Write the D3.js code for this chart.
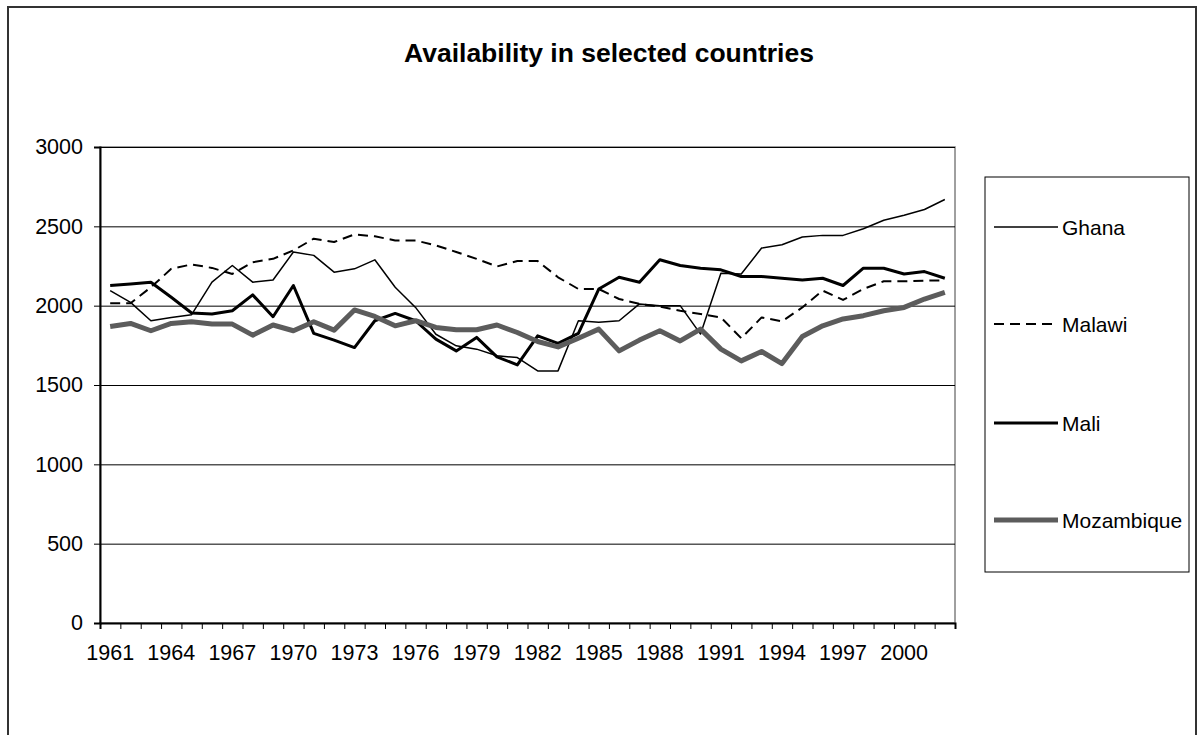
<!DOCTYPE html>
<html>
<head>
<meta charset="utf-8">
<script src="https://cdn.jsdelivr.net/npm/d3@7"></script>
<style>
  html, body { margin: 0; padding: 0; background: #fff; }
  svg { display: block; font-family: "Liberation Sans", Arial, sans-serif; }
</style>
</head>
<body>
<svg id="chart" width="1198" height="735"></svg>
<script>
const title = "Availability in selected countries";
const years = d3.range(1961, 2003);
const yTicks = [0, 500, 1000, 1500, 2000, 2500, 3000];
const xTickLabels = [1961, 1964, 1967, 1970, 1973, 1976, 1979, 1982, 1985, 1988, 1991, 1994, 1997, 2000];
const seriesNames = ["Ghana", "Malawi", "Mali", "Mozambique"];

const ghana = [2095, 2021, 1905, 1926, 1943, 2148, 2253, 2148, 2162, 2338, 2317, 2211, 2232, 2289, 2116,
  1989, 1820, 1747, 1726, 1684, 1673, 1589, 1589, 1905, 1895, 1905, 2011, 2000, 2000, 1821,
  2205, 2200, 2363, 2384, 2433, 2443, 2443, 2485, 2538, 2570, 2606, 2669];
const malawi = [2015, 2015, 2116, 2232, 2260, 2238, 2200, 2274, 2295, 2348, 2422, 2401, 2449, 2437, 2411,
  2411, 2380, 2338, 2295, 2247, 2281, 2281, 2179, 2105, 2105, 2042, 2011, 1994, 1968, 1947,
  1926, 1795, 1926, 1901, 1989, 2095, 2036, 2105, 2154, 2154, 2158, 2158];
const mali = [2127, 2137, 2148, 2053, 1954, 1947, 1968, 2068, 1930, 2127, 1825, 1783, 1736, 1905, 1951,
  1905, 1789, 1715, 1800, 1677, 1627, 1810, 1762, 1825, 2105, 2179, 2148, 2289, 2253, 2236,
  2226, 2184, 2184, 2173, 2162, 2173, 2127, 2236, 2236, 2200, 2215, 2173];
const mozambique = [1869, 1888, 1842, 1888, 1899, 1884, 1884, 1814, 1878, 1842, 1899, 1846, 1973, 1932, 1873,
  1905, 1863, 1848, 1848, 1878, 1831, 1774, 1740, 1795, 1852, 1715, 1783, 1842, 1778, 1852,
  1726, 1652, 1711, 1635, 1806, 1873, 1916, 1937, 1968, 1989, 2042, 2084];

const seriesValues = [ghana, malawi, mali, mozambique];
const styles = [
  { stroke: "#000", width: 1.5, dash: null },
  { stroke: "#000", width: 2, dash: "10,6" },
  { stroke: "#000", width: 3, dash: null },
  { stroke: "#5c5c5c", width: 5, dash: null }
];

const svg = d3.select("#chart");
const pL = 100, pR = 955, pT = 147, pB = 623;
const FONT = "'Liberation Sans', Arial, sans-serif";

// outer chart border
svg.append("rect").attr("x", 8).attr("y", 7).attr("width", 1188).attr("height", 760)
  .attr("fill", "#fff").attr("stroke", "#333").attr("stroke-width", 2);

// title
svg.append("text").attr("x", 609).attr("y", 62).attr("text-anchor", "middle")
  .attr("font-size", 26.5).attr("font-weight", "bold").text(title);

const x = d3.scaleBand().domain(years).range([pL, pR]).padding(0);
const y = d3.scaleLinear().domain([0, 3000]).range([pB, pT]);
const cx = d => x(d) + x.bandwidth() / 2;

// plot area border (grey)
svg.append("rect").attr("x", pL).attr("y", pT).attr("width", pR - pL).attr("height", pB - pT)
  .attr("fill", "none").attr("stroke", "#808080").attr("stroke-width", 1.5);

// gridlines
svg.append("g").attr("transform", `translate(${pL},0)`)
  .call(d3.axisLeft(y).tickValues(yTicks.filter(v => v > 0)).tickSize(-(pR - pL)).tickFormat(""))
  .call(g => g.select(".domain").remove())
  .call(g => g.selectAll("line").attr("stroke", "#000").attr("stroke-width", 1));

// y axis
svg.append("g").attr("transform", `translate(${pL},0)`)
  .call(d3.axisLeft(y).tickValues(yTicks).tickSize(6).tickPadding(11).tickFormat(d3.format("d")))
  .call(g => g.select(".domain").attr("stroke", "#000").attr("stroke-width", 2))
  .call(g => g.selectAll("line").attr("stroke", "#000"))
  .call(g => g.selectAll("text").attr("font-size", 21.5).attr("fill", "#000").attr("font-family", FONT));

// x axis: tick marks at category boundaries
const xb = d3.scaleLinear().domain([0, years.length]).range([pL, pR]);
svg.append("g").attr("transform", `translate(0,${pB})`)
  .call(d3.axisBottom(xb).tickValues(d3.range(0, years.length + 1)).tickSize(6).tickFormat(""))
  .call(g => g.select(".domain").attr("stroke", "#000").attr("stroke-width", 2))
  .call(g => g.selectAll("line").attr("stroke", "#000"));
// x labels
svg.append("g").attr("transform", `translate(0,${pB})`)
  .call(d3.axisBottom(x).tickValues(xTickLabels).tickSize(0).tickPadding(22))
  .call(g => g.select(".domain").remove())
  .call(g => g.selectAll("text").attr("font-size", 21.5).attr("fill", "#000").attr("font-family", FONT));

// lines
const line = d3.line().x((d, i) => cx(years[i])).y(d => y(d));
seriesValues.forEach((vals, k) => {
  const s = styles[k];
  svg.append("path").datum(vals).attr("d", line)
    .attr("fill", "none").attr("stroke", s.stroke).attr("stroke-width", s.width)
    .attr("stroke-dasharray", s.dash).attr("stroke-linejoin", "round");
});

// legend
svg.append("rect").attr("x", 985).attr("y", 177).attr("width", 204).attr("height", 395)
  .attr("fill", "#fff").attr("stroke", "#000").attr("stroke-width", 1);
const legY = [227, 324, 423, 520];
seriesNames.forEach((name, k) => {
  const s = styles[k];
  svg.append("line").attr("x1", 994).attr("x2", 1058).attr("y1", legY[k]).attr("y2", legY[k])
    .attr("stroke", s.stroke).attr("stroke-width", s.width).attr("stroke-dasharray", s.dash);
  svg.append("text").attr("x", 1062).attr("y", legY[k]).attr("dy", "0.36em")
    .attr("font-size", 21).attr("font-family", FONT).text(name);
});
</script>
</body>
</html>
